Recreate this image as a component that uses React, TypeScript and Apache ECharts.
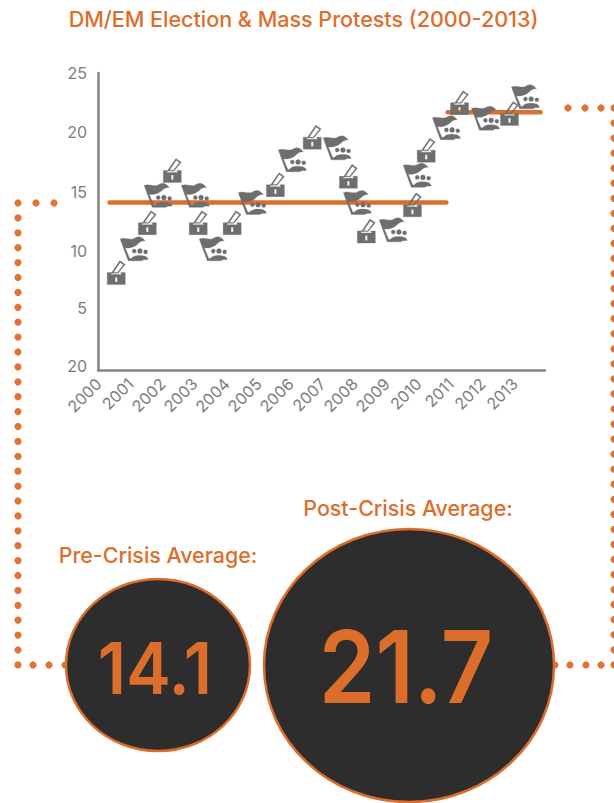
import React, { useEffect, useRef } from "react";
import * as echarts from "echarts";

const ORANGE = "#dd6d2a";
const GREY = "#6e6e6e";
const AXIS_GREY = "#858585";
const LABEL_GREY = "#7d7d7d";
const DARK = "#2d2d2d";
const FONT = "Inter, 'Open Sans', sans-serif";

const yearTicks = [2000, 2001, 2002, 2003, 2004, 2005, 2006, 2007, 2008, 2009, 2010, 2011, 2012, 2013];
const valueTicks = [0, 5, 10, 15, 20, 25];
const valueTickLabels = ["20", "5", "10", "15", "20", "25"];

const electionYears = [2000.41, 2001.38, 2002.16, 2002.97, 2004.03, 2005.38, 2006.53, 2007.66, 2008.22, 2009.66, 2010.09, 2011.13, 2012.69];
const electionCounts = [8.2, 12.4, 16.8, 12.4, 12.4, 15.6, 19.6, 16.3, 11.7, 13.9, 18.5, 22.5, 21.6];

const protestYears = [2000.97, 2001.72, 2002.88, 2003.44, 2004.66, 2005.91, 2007.31, 2007.94, 2009.06, 2009.81, 2010.72, 2011.94, 2013.19];
const protestCounts = [10.2, 14.7, 14.7, 10.2, 14.1, 17.7, 18.7, 14.1, 11.8, 16.4, 20.4, 21.2, 23];

const preCrisisYears = [2000.2, 2010.72];
const postCrisisYears = [2010.76, 2013.66];
const preCrisisAverage = 14.1;
const postCrisisAverage = 21.7;

// Ballot box: body with a keyhole slot and a tilted paper outline above it
const BALLOT_ICON =
  "path://M0 12H4.6L3.4 14H14.6L13.4 12H18V24H0Z" +
  "M7.9 16.6V21.4H10.1V16.6Z" +
  "M4 12.6L12.6 0L18 3.8L10.8 12.6Z" +
  "M6.2 11.8H10.2L16.2 4.1L12.9 1.9Z";

// Waving flag on a slanted pole, with three figures under the banner
const PROTEST_ICON =
  "path://M0 3C5 1 10 4.5 14 2.5C17 0.5 21 -0.5 25 5C21 4 19 7 15.5 9.5C12 11.5 8 12 5 11.5L9.5 21.8H13.5V24H8Z" +
  "M12 14.6A2 2 0 1 0 16 14.6A2 2 0 1 0 12 14.6Z" +
  "M17.2 14.6A2.5 2.5 0 1 0 22.2 14.6A2.5 2.5 0 1 0 17.2 14.6Z" +
  "M23.4 15.4A2 2 0 1 0 27.4 15.4A2 2 0 1 0 23.4 15.4Z" +
  "M11 22.6C11.6 20 15 18.8 19.4 18.8C23.8 18.8 27.4 19.6 28 22.8L23 23C22.6 23.6 22 24 21.4 24H12.6L12 22.8Z";

const dot = (cx: number, cy: number) => ({
  type: "circle",
  z: 1,
  silent: true,
  shape: { cx, cy, r: 3.6 },
  style: { fill: ORANGE, opacity: 0.95 },
});

// Dotted leader lines linking each average band to its circle
const leaderDots = () => {
  const dots: any[] = [];
  for (let i = 0; i <= 31; i++) dots.push(dot(18, 203 + i * 14.9));
  for (const x of [36, 54]) dots.push(dot(x, 203));
  for (const x of [33, 49, 65]) dots.push(dot(x, 665));
  for (let i = 0; i <= 37; i++) dots.push(dot(614, 108 + i * 15.05));
  for (const x of [568, 585, 601]) dots.push(dot(x, 108));
  for (const x of [555, 570, 586, 601]) dots.push(dot(x, 665));
  return dots;
};

const averageBadge = (cx: number, cy: number, rx: number, ry: number, text: string, fontSize: number, textX: number, textY: number, squeeze: number) => [
  {
    type: "ellipse",
    z: 2,
    silent: true,
    shape: { cx, cy, rx, ry },
    style: { fill: DARK, stroke: ORANGE, lineWidth: 2.5 },
  },
  {
    type: "text",
    z: 3,
    silent: true,
    x: textX,
    y: textY,
    scaleX: squeeze,
    style: {
      text,
      fill: ORANGE,
      font: `600 ${fontSize}px ${FONT}`,
      align: "center",
      verticalAlign: "middle",
    },
  },
];

const caption = (x: number, y: number, text: string) => ({
  type: "text",
  z: 3,
  silent: true,
  x,
  y,
  style: {
    text,
    fill: ORANGE,
    font: `500 21.4px ${FONT}`,
    align: "center",
    verticalAlign: "middle",
  },
});

export default function App() {
  const ref = useRef<HTMLDivElement>(null);

  useEffect(() => {
    const chart = echarts.init(ref.current!, null, { renderer: "svg" });
    chart.setOption({
      animation: false,
      backgroundColor: "#ffffff",
      title: {
        text: "DM/EM Election & Mass Protests (2000-2013)",
        left: 298.5,
        top: 14,
        textAlign: "center",
        textVerticalAlign: "middle",
        textStyle: { color: ORANGE, fontFamily: FONT, fontSize: 21.5, fontWeight: 500 },
      },
      grid: { left: 98, right: 69, top: 73, bottom: 433 },
      xAxis: {
        type: "value",
        min: 1999.84,
        max: 2013.8,
        splitLine: { show: false },
        axisTick: { show: false },
        axisLine: { show: true, lineStyle: { color: AXIS_GREY, width: 2.5 } },
        axisLabel: {
          customValues: yearTicks,
          rotate: 45,
          margin: 7,
          padding: [0, 6, 0, 0],
          color: LABEL_GREY,
          fontFamily: FONT,
          fontSize: 16,
          formatter: (v: number) => String(v),
        },
      },
      yAxis: {
        type: "value",
        min: 0,
        max: 25,
        splitLine: { show: false },
        axisTick: { show: false },
        axisLine: { show: true, lineStyle: { color: AXIS_GREY, width: 2.5 } },
        axisLabel: {
          customValues: valueTicks,
          margin: 11,
          color: LABEL_GREY,
          fontFamily: FONT,
          fontSize: 16,
          formatter: (v: number) => {
            const label = valueTickLabels[valueTicks.indexOf(v)];
            if (v === 0) return `{base|${label}}`;
            if (v === 5) return `{low|${label}}`;
            return label;
          },
          rich: {
            base: { color: LABEL_GREY, fontFamily: FONT, fontSize: 16, padding: [0, 0, 8, 0] },
            low: { color: LABEL_GREY, fontFamily: FONT, fontSize: 16, padding: [0, 0, 6, 0] },
          },
        },
      },
      series: [
        {
          type: "line",
          name: "Pre-crisis average",
          z: 2,
          symbol: "none",
          lineStyle: { color: ORANGE, width: 4.5, cap: "round" },
          data: preCrisisYears.map((y) => [y, preCrisisAverage]),
        },
        {
          type: "line",
          name: "Post-crisis average",
          z: 2,
          symbol: "none",
          lineStyle: { color: ORANGE, width: 4.5, cap: "round" },
          data: postCrisisYears.map((y) => [y, postCrisisAverage]),
        },
        {
          type: "scatter",
          name: "Elections",
          z: 3,
          symbol: BALLOT_ICON,
          symbolSize: [18, 24],
          itemStyle: { color: GREY, opacity: 1, borderColor: GREY, borderWidth: 0.3 },
          data: electionYears.map((y, i) => [y, electionCounts[i]]),
        },
        {
          type: "scatter",
          name: "Mass protests",
          z: 3,
          symbol: PROTEST_ICON,
          symbolSize: [28, 24],
          itemStyle: { color: GREY, opacity: 1, borderColor: GREY, borderWidth: 0.3 },
          data: protestYears.map((y, i) => [y, protestCounts[i]]),
        },
      ],
      graphic: [
        ...leaderDots(),
        caption(158, 555, "Pre-Crisis Average:"),
        caption(408, 508, "Post-Crisis Average:"),
        ...averageBadge(158, 665, 92, 86, String(preCrisisAverage), 72, 155, 668, 0.93),
        ...averageBadge(409, 665.5, 145, 136.5, String(postCrisisAverage), 101, 406, 666, 0.9),
      ],
    });
    return () => chart.dispose();
  }, []);

  return <div ref={ref} style={{ position: "fixed", left: 0, top: 0, width: 614, height: 803 }} />;
}
